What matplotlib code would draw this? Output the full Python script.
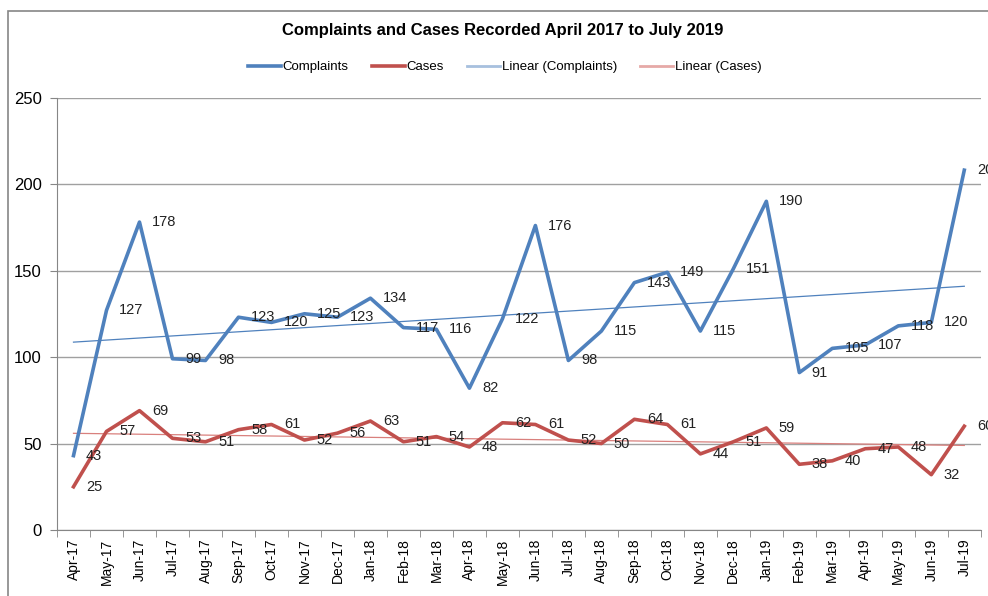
from matplotlib import pyplot as plt
from matplotlib.patches import Rectangle
import numpy as np

months = ['Apr-17', 'May-17', 'Jun-17', 'Jul-17', 'Aug-17', 'Sep-17', 'Oct-17',
          'Nov-17', 'Dec-17', 'Jan-18', 'Feb-18', 'Mar-18', 'Apr-18', 'May-18',
          'Jun-18', 'Jul-18', 'Aug-18', 'Sep-18', 'Oct-18', 'Nov-18', 'Dec-18',
          'Jan-19', 'Feb-19', 'Mar-19', 'Apr-19', 'May-19', 'Jun-19', 'Jul-19']
complaints = [43, 127, 178, 99, 98, 123, 120, 125, 123, 134, 117, 116, 82, 122,
              176, 98, 115, 143, 149, 115, 151, 190, 91, 105, 107, 118, 120, 208]
cases = [25, 57, 69, 53, 51, 58, 61, 52, 56, 63, 51, 54, 48, 62,
         61, 52, 50, 64, 61, 44, 51, 59, 38, 40, 47, 48, 32, 60]

plt.rcParams['font.family'] = ['Liberation Sans', 'DejaVu Sans']

blue = '#4F81BD'
red = '#C0504D'

fig = plt.figure(figsize=(9.88, 5.96), dpi=100)
ax = fig.add_axes([0.0577, 0.1107, 0.935, 0.7257])

x = np.arange(len(months))

# chart border
fig.patches.append(Rectangle((8 / 988, -0.1), 1.1, 1 - 11 / 596 + 0.1,
                             transform=fig.transFigure, fill=False,
                             edgecolor='#868686', linewidth=1.2))

ax.plot(x, complaints, color=blue, linewidth=2.6, label='Complaints', zorder=4)
ax.plot(x, cases, color=red, linewidth=2.6, label='Cases', zorder=4)

# linear trendlines
pc = np.polyfit(x, complaints, 1)
pk = np.polyfit(x, cases, 1)
ax.plot(x, np.polyval(pc, x), color=blue, linewidth=0.9, label='Linear (Complaints)', zorder=3)
ax.plot(x, np.polyval(pk, x), color='#D9807D', linewidth=0.9, label='Linear (Cases)', zorder=3)

for xi, v in zip(x, complaints):
    ax.annotate(str(v), (xi, v), xytext=(9, 0), textcoords='offset points',
                va='center', ha='left', fontsize=10.5, color='#222222',
                annotation_clip=False, zorder=5)
for xi, v in zip(x, cases):
    ax.annotate(str(v), (xi, v), xytext=(9, 0), textcoords='offset points',
                va='center', ha='left', fontsize=10.5, color='#222222',
                annotation_clip=False, zorder=5)

ax.set_xlim(-0.5, len(months) - 0.5)
ax.set_ylim(0, 250)
ax.set_yticks(range(0, 251, 50))
ax.set_xticks(x)
ax.set_xticklabels(months, rotation=90, fontsize=10)
ax.set_xticks(np.arange(-0.5, len(months), 1), minor=True)
ax.tick_params(axis='x', which='major', length=0, pad=6)
ax.tick_params(axis='x', which='minor', length=5, color='#868686')
ax.tick_params(axis='y', length=5, color='#868686', labelsize=12, pad=6)
ax.grid(axis='y', color='#A0A0A0', linewidth=1)
ax.set_axisbelow(True)
for s in ['top', 'right']:
    ax.spines[s].set_visible(False)
ax.spines['left'].set_color('#868686')
ax.spines['bottom'].set_color('#868686')

fig.text(0.509, 0.948, 'Complaints and Cases Recorded April 2017 to July 2019',
         ha='center', va='center', fontsize=12, fontweight='bold')

handles, labels = ax.get_legend_handles_labels()
leg = fig.legend(handles, labels, loc='center', bbox_to_anchor=(0.511, 0.887),
                 ncol=4, frameon=False, fontsize=9.5, handlelength=2.5,
                 columnspacing=1.75, handletextpad=0.15)
leg.get_lines()[2].set_color('#A7C0DE')
leg.get_lines()[2].set_linewidth(2)
leg.get_lines()[3].set_color('#E6A9A7')
leg.get_lines()[3].set_linewidth(2)

plt.savefig('out.png', dpi=100)
plt.close(fig)
